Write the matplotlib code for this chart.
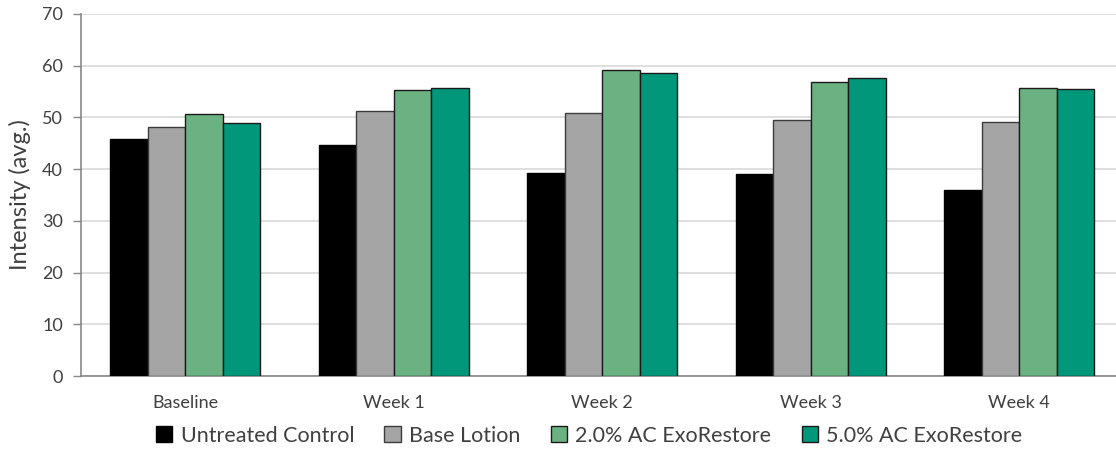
import numpy as np
import matplotlib.pyplot as plt

plt.rcParams['font.family'] = ['Lato', 'DejaVu Sans']

categories = ["Baseline", "Week 1", "Week 2", "Week 3", "Week 4"]
series = ["Untreated Control", "Base Lotion", "2.0% AC ExoRestore", "5.0% AC ExoRestore"]
untreated = [45.8, 44.7, 39.3, 39.1, 36.0]
base_lotion = [48.2, 51.3, 50.9, 49.5, 49.1]
exo_2 = [50.7, 55.3, 59.2, 56.9, 55.7]
exo_5 = [48.9, 55.7, 58.6, 57.6, 55.5]

values = [untreated, base_lotion, exo_2, exo_5]
colors = ["#000000", "#a5a5a5", "#6bb282", "#00977a"]
edges = ["#000000", "#3c3c3c", "#1a1a1a", "#1a1a1a"]

fig = plt.figure(figsize=(11.16, 4.5), dpi=100)
ax = fig.add_axes([0.0726, 0.1644, 0.934, 0.805])

x = np.arange(len(categories))
w = 0.18
for i, (vals, c, ec, name) in enumerate(zip(values, colors, edges, series)):
    ax.bar(x + (i - 1.5) * w, vals, w, color=c, edgecolor=ec, linewidth=1.0,
           label=name, zorder=3)

ax.set_xlim(-0.5, len(categories) - 0.5)
ax.set_ylim(0, 70)
ax.set_yticks(range(0, 71, 10))
ax.set_xticks(x)
ax.set_xticklabels(categories, fontsize=13, color="#404040")
ax.tick_params(axis="x", length=0, pad=14)
ax.tick_params(axis="y", labelsize=13, labelcolor="#404040", length=6,
               color="#888888", width=1, pad=7)
ax.grid(axis="y", color="#d9d9d9", linewidth=1.2, zorder=0)

for s in ["top", "right"]:
    ax.spines[s].set_visible(False)
ax.spines["left"].set_color("#888888")
ax.spines["bottom"].set_color("#888888")
ax.spines["left"].set_linewidth(1.2)
ax.spines["bottom"].set_linewidth(1.2)

ax.set_ylabel("Intensity (avg.)", fontsize=17, color="#404040", labelpad=8)

fig.legend(loc="center", bbox_to_anchor=(0.528, 0.032), ncol=4,
           frameon=False, fontsize=15.5, handlelength=0.75, handleheight=0.75,
           handletextpad=0.4, columnspacing=1.4, labelcolor="#404040",
           borderpad=0)

fig.savefig("out.png", dpi=100)
